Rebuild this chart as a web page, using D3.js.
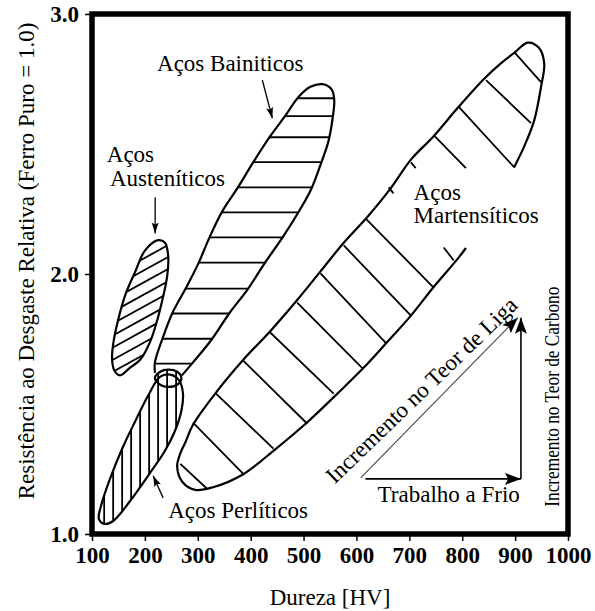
<!DOCTYPE html>
<html>
<head>
<meta charset="utf-8">
<title>Resistencia ao desgaste x Dureza</title>
<script src="https://d3js.org/d3.v7.min.js"></script>
<style>
  body { margin: 0; background: #fff; }
  text { font-family: "Liberation Serif", "Times New Roman", serif; fill: #000; }
</style>
</head>
<body>
<div id="chart"></div>
<script>
// axis ticks
const xTicks = [100, 200, 300, 400, 500, 600, 700, 800, 900, 1000];
const yTicks = [1.0, 2.0, 3.0];

// outlines of the regions, [dureza HV, resistencia relativa]
const austenitic = [[225,2.13],[238,2.12],[244,2.07],[242,1.99],[233,1.90],[223,1.82],[210,1.74],[191,1.67],
  [172,1.64],[153,1.61],[142,1.63],[138,1.67],[140,1.73],[149,1.82],[163,1.92],[182,2.01],[200,2.09]];
const bainitic = [[219,1.62],[219,1.66],[233,1.75],[252,1.85],[276,1.94],[301,2.04],[322,2.14],[346,2.24],
  [375,2.33],[405,2.43],[437,2.53],[466,2.61],[490,2.68],[513,2.72],[536,2.73],[553,2.71],[558,2.67],
  [555,2.60],[547,2.51],[532,2.42],[513,2.32],[488,2.23],[460,2.14],[426,2.04],[394,1.94],[360,1.85],
  [327,1.75],[291,1.66],[270,1.61]];
const pearlitic = [[229,1.605],[206,1.532],[182,1.435],[157,1.328],[134,1.212],[117,1.108],[113,1.058],
  [123,1.039],[140,1.050],[172,1.127],[206,1.224],[238,1.320],[257,1.397],[269,1.474],[272,1.540],
  [265,1.590],[248,1.613]];
const ring = [[219,1.60],[229,1.624],[244,1.632],[261,1.624],[269,1.60],[261,1.574],[244,1.566],[229,1.574]];
const martensitic = [[807,2.10],[792,2.06],[746,1.95],[703,1.84],[659,1.74],[614,1.64],[564,1.54],[507,1.43],
  [443,1.32],[386,1.23],[329,1.18],[295,1.17],[271,1.20],[261,1.26],[267,1.31],[276,1.35],[291,1.42],
  [333,1.54],[386,1.67],[437,1.78],[488,1.90],[532,2.01],[576,2.12],[621,2.22],[665,2.33],[703,2.44],
  [746,2.53],[792,2.64],[841,2.75],[873,2.81],[898,2.85],[924,2.89],[945,2.87],[955,2.81],[949,2.72],
  [936,2.59],[917,2.49],[898,2.41]];

// hatching
const martensiticHatch = [
  [[898,2.854],[949,2.738]], [[845,2.746],[930,2.580]], [[794,2.642],[898,2.411]],
  [[746,2.534],[807,2.407]], [[703,2.430],[712,2.407]], [[661,2.333],[670,2.310]],
  [[617,2.214],[746,1.948]], [[765,2.102],[784,2.052]], [[576,2.110],[703,1.840]],
  [[532,2.002],[655,1.736]], [[488,1.890],[612,1.636]], [[437,1.775],[557,1.540]],
  [[386,1.667],[507,1.424]], [[333,1.543],[443,1.328]], [[291,1.428],[386,1.231]],
  [[267,1.270],[318,1.173]]
];
const bainiticHatchY = [2.676, 2.607, 2.526, 2.430, 2.333, 2.237, 2.141, 2.044, 1.944, 1.848, 1.751, 1.655];
const pearliticHatchX = [123, 140, 157, 174, 191, 208, 225, 242, 259];
const austeniticHatchY = [2.145, 2.098, 2.052, 2.006, 1.960, 1.913, 1.867, 1.821, 1.775, 1.728, 1.682, 1.636, 1.590];
const austeniticHatchSlope = 0.00112; // per HV, around x = 191

// pointers from the labels
const pointers = [
  [[219.4,2.295],[219.4,2.156]],
  [[422,2.746],[441,2.599]],
  [[234.5,1.139],[215.6,1.224]]
];
// trend arrows
const trendArrows = [
  {from:[617,1.212], to:[911,1.212]},
  {from:[911,1.212], to:[911,1.832]}
];
const alloyArrow = {from:[608,1.216], to:[905,1.832]};

const labels = [
  {text:"Aços Bainiticos", x:223, y:2.780},
  {text:"Aços", x:128, y:2.430},
  {text:"Austeníticos", x:134, y:2.337},
  {text:"Aços", x:708, y:2.283},
  {text:"Martensíticos", x:708, y:2.195},
  {text:"Aços Perlíticos", x:244, y:1.062},
  {text:"Trabalho a Frio", x:640, y:1.123}
];

let margin = {top: 14, right: 27, bottom: 77, left: 92};
let w = 595 - margin.left - margin.right;
let h = 611 - margin.top - margin.bottom;

let root = d3.select("#chart").append("svg")
    .attr("width", 595).attr("height", 611);
let svg = root.append("g")
    .attr("transform", "translate(" + margin.left + "," + margin.top + ")");

let xScale = d3.scaleLinear().domain([100, 1000]).range([0, w]);
let yScale = d3.scaleLinear().domain([1, 3]).range([h, 0]);

let straight = d3.line().x(d => xScale(d[0])).y(d => yScale(d[1]));
let open = d3.line().x(d => xScale(d[0])).y(d => yScale(d[1])).curve(d3.curveCatmullRom.alpha(0.5));
let closed = d3.line().x(d => xScale(d[0])).y(d => yScale(d[1])).curve(d3.curveCatmullRomClosed.alpha(0.5));

let defs = root.append("defs");
defs.append("clipPath").attr("id", "clip-aus").append("path").attr("d", closed(austenitic));
defs.append("clipPath").attr("id", "clip-bai").append("path").attr("d", closed(bainitic));
let cp = defs.append("clipPath").attr("id", "clip-per");
cp.append("path").attr("d", closed(pearlitic));
cp.append("path").attr("d", closed(ring));

function marker(id, len, half) {
  defs.append("marker").attr("id", id)
    .attr("markerUnits", "userSpaceOnUse")
    .attr("viewBox", (-len - 1) + " " + (-half - 1) + " " + (len + 2) + " " + (2 * half + 2))
    .attr("markerWidth", len + 2).attr("markerHeight", 2 * half + 2)
    .attr("refX", 0).attr("refY", 0).attr("orient", "auto")
    .append("path").attr("d", "M0,0L" + (-len) + "," + (-half) + "L" + (-len * 0.8) + ",0L" + (-len) + "," + half + "Z")
    .attr("fill", "#000");
}
marker("head-big", 16, 6);
marker("head-small", 11, 3.5);

// hatches
let hatch = svg.append("g").attr("stroke", "#000").attr("stroke-width", 1.8).attr("fill", "none");
hatch.append("g").attr("clip-path", "url(#clip-aus)")
  .selectAll("path").data(austeniticHatchY).enter().append("path")
  .attr("d", d => straight([[120, d + austeniticHatchSlope * (120 - 191)], [260, d + austeniticHatchSlope * (260 - 191)]]));
hatch.append("g").attr("clip-path", "url(#clip-bai)")
  .selectAll("path").data(bainiticHatchY).enter().append("path")
  .attr("d", d => straight([[200, d], [580, d]]));
hatch.append("g").attr("clip-path", "url(#clip-per)")
  .selectAll("path").data(pearliticHatchX).enter().append("path")
  .attr("d", d => straight([[d, 1.0], [d, 1.7]]));
hatch.selectAll(".mh").data(martensiticHatch).enter().append("path")
  .attr("d", d => straight(d));

// outlines
let outl = svg.append("g").attr("stroke", "#000").attr("stroke-width", 2.2).attr("fill", "none");
outl.append("path").attr("d", closed(austenitic));
outl.append("path").attr("d", open(bainitic));
outl.append("path").attr("d", closed(pearlitic));
outl.append("path").attr("d", closed(ring));
outl.append("path").attr("d", open(martensitic));

// pointers
svg.selectAll(".ptr").data(pointers).enter().append("path")
  .attr("d", d => straight(d))
  .attr("stroke", "#000").attr("stroke-width", 1.3).attr("fill", "none")
  .attr("marker-end", "url(#head-small)");

svg.selectAll(".trend").data(trendArrows).enter().append("path")
  .attr("d", d => straight([d.from, d.to]))
  .attr("stroke", "#000").attr("stroke-width", 1.6).attr("fill", "none")
  .attr("marker-end", "url(#head-big)");
svg.append("path")
  .attr("d", straight([alloyArrow.from, alloyArrow.to]))
  .attr("stroke", "#444").attr("stroke-width", 1.1).attr("fill", "none")
  .attr("marker-end", "url(#head-big)");

// frame
svg.append("rect").attr("x", 0).attr("y", 0).attr("width", w).attr("height", h)
  .attr("fill", "none").attr("stroke", "#000").attr("stroke-width", 5.5);

// axes
let xAxis = d3.axisBottom(xScale).tickValues(xTicks).tickSize(7).tickPadding(6).tickFormat(d3.format("d"));
let yAxis = d3.axisLeft(yScale).tickValues(yTicks).tickSize(7).tickPadding(6).tickFormat(d3.format(".1f"));
svg.append("g").attr("transform", "translate(0," + h + ")").call(xAxis)
  .call(g => g.select(".domain").remove());
svg.append("g").call(yAxis)
  .call(g => g.select(".domain").remove());
svg.selectAll(".tick line").attr("stroke", "#000").attr("stroke-width", 1.5);
svg.selectAll(".tick text")
  .attr("font-family", "'Liberation Serif', 'Times New Roman', serif")
  .attr("font-size", "23px").attr("font-weight", "bold").attr("fill", "#000");

// labels
svg.selectAll(".lbl").data(labels).enter().append("text")
  .attr("x", d => xScale(d.x)).attr("y", d => yScale(d.y))
  .attr("font-size", "23px")
  .text(d => d.text);

svg.append("text")
  .attr("transform", "translate(" + xScale(733) + "," + yScale(1.532) + ") rotate(-44)")
  .attr("text-anchor", "middle").attr("font-size", "23px")
  .text("Incremento no Teor de Liga");

svg.append("text")
  .attr("transform", "translate(" + xScale(983) + "," + yScale(1.528) + ") rotate(-90)")
  .attr("text-anchor", "middle").attr("font-size", "22px")
  .attr("textLength", 220).attr("lengthAdjust", "spacingAndGlyphs")
  .text("Incremento no Teor de Carbono");

// axis titles
svg.append("text")
  .attr("transform", "translate(" + (w / 2) + "," + (h + 71) + ")")
  .attr("text-anchor", "middle").attr("font-size", "23px")
  .text("Dureza [HV]");
svg.append("text")
  .attr("transform", "translate(" + (34 - margin.left) + "," + (261 - margin.top) + ") rotate(-90)")
  .attr("text-anchor", "middle").attr("font-size", "23px")
  .text("Resistência ao Desgaste Relativa (Ferro Puro = 1.0)");
</script>
</body>
</html>
